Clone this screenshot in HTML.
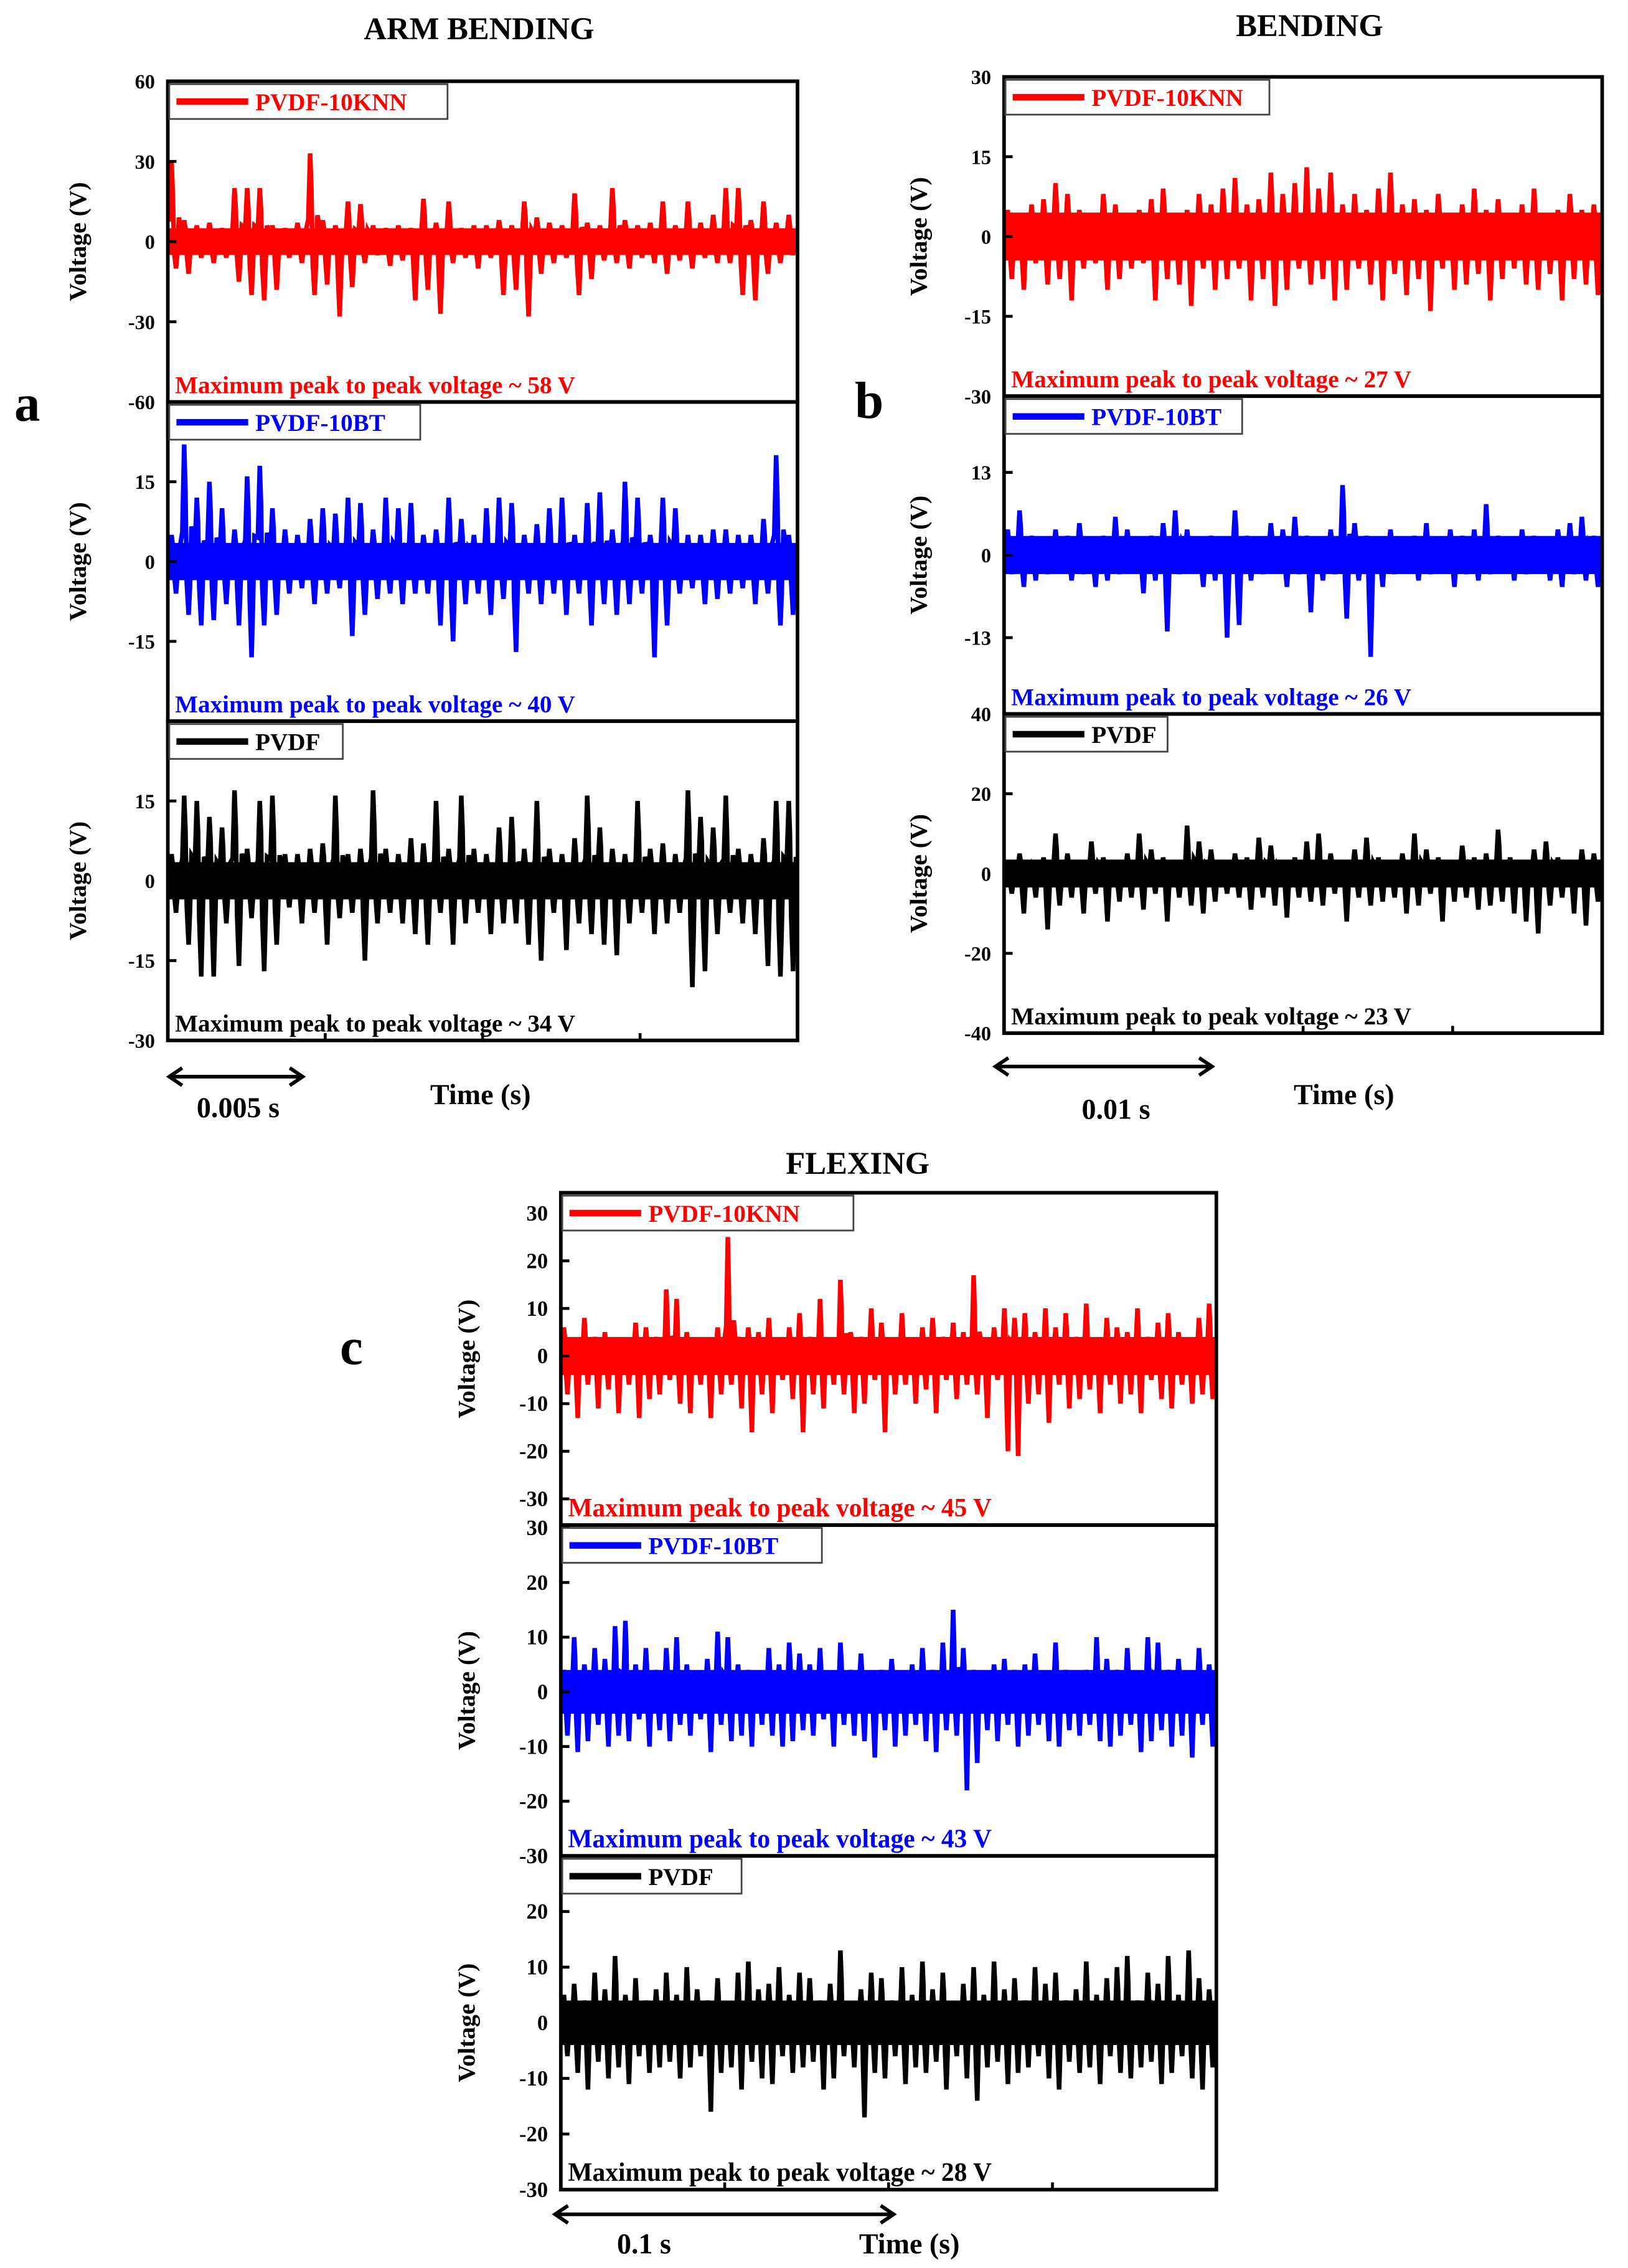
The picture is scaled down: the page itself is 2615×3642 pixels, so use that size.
<!DOCTYPE html>
<html><head><meta charset="utf-8">
<style>
html,body{margin:0;padding:0;background:#fff;}
svg{display:block;}
text{font-family:"Liberation Serif",serif;font-weight:bold;}
</style></head>
<body>
<svg id="fig" width="2615" height="3642" viewBox="0 0 1135 1563" preserveAspectRatio="none" xmlns="http://www.w3.org/2000/svg">
<g id="root"></g>
</svg>
<script>
// ---------- data (max / min voltage per time bin) ----------
const aKnnHi = [30,8,6,7,5,20,20,20,6,5,7,33,8,6,15,14,6,5,6,5,16,7,15,5,6,6,8,6,15,9,7,6,18,7,6,20,8,6,7,15,6,15,7,10,20,20,8,15,7,10];
const aKnnLo = [-10,-12,-6,-8,-6,-15,-20,-22,-18,-6,-8,-20,-16,-28,-17,-8,-5,-9,-7,-22,-18,-27,-8,-6,-10,-6,-20,-18,-28,-12,-8,-6,-20,-14,-7,-8,-10,-6,-8,-12,-7,-10,-6,-8,-8,-20,-22,-12,-8,-5];
const aBtHi = [5,22,12,15,10,6,16,18,10,6,5,8,10,9,12,11,6,12,10,11,5,6,12,8,5,10,12,11,5,7,10,12,5,11,13,6,15,12,5,12,10,5,5,6,6,5,5,8,20,5];
const aBtLo = [-6,-10,-12,-11,-8,-12,-18,-12,-10,-6,-5,-8,-6,-5,-14,-10,-7,-6,-8,-6,-6,-12,-15,-8,-6,-10,-7,-17,-6,-8,-6,-10,-6,-12,-8,-10,-8,-6,-18,-12,-6,-5,-8,-7,-6,-5,-8,-6,-12,-10];
const aPvdfHi = [5,16,15,12,10,17,6,15,16,5,5,6,7,16,5,6,17,6,5,8,7,15,6,16,6,5,10,12,6,15,6,5,8,16,10,6,5,15,6,7,5,17,12,10,16,6,5,8,15,15];
const aPvdfLo = [-6,-12,-18,-18,-8,-16,-7,-17,-12,-5,-8,-6,-12,-7,-6,-15,-8,-6,-8,-10,-12,-6,-12,-8,-6,-10,-8,-8,-12,-15,-6,-13,-8,-10,-12,-14,-8,-6,-10,-8,-6,-20,-17,-10,-6,-8,-10,-16,-18,-17];
const bKnnHi = [5,4,6,7,10,8,5,4,8,6,3,5,7,9,4,5,8,6,9,11,6,7,12,8,10,13,9,12,6,8,5,9,12,6,7,5,8,4,6,9,5,7,3,6,9,4,5,8,5,6];
const bKnnLo = [-8,-10,-5,-9,-8,-12,-6,-5,-10,-8,-6,-5,-12,-8,-9,-13,-6,-10,-8,-6,-12,-8,-13,-10,-6,-9,-8,-12,-10,-6,-9,-12,-7,-11,-8,-14,-6,-10,-9,-7,-12,-8,-6,-9,-10,-7,-12,-8,-9,-11];
const bBtHi = [4,7,3,2,4,3,5,2,3,6,4,2,3,5,7,4,2,3,2,7,3,2,5,4,6,3,2,4,11,5,3,2,4,2,3,5,2,4,3,4,8,3,2,4,3,2,4,5,6,3];
const bBtLo = [-3,-5,-4,-3,-2,-4,-3,-5,-4,-3,-2,-6,-4,-12,-3,-2,-5,-4,-13,-11,-4,-3,-2,-5,-3,-9,-4,-3,-10,-4,-16,-5,-3,-2,-4,-3,-2,-5,-3,-4,-3,-2,-4,-3,-2,-4,-5,-3,-4,-5];
const bPvdfHi = [3,5,2,4,10,5,3,8,4,3,5,10,6,4,3,12,8,6,3,5,4,9,7,3,4,8,10,5,3,6,9,4,3,5,10,6,4,3,7,4,5,11,4,3,6,8,4,3,6,5];
const bPvdfLo = [-5,-10,-6,-14,-8,-6,-10,-5,-12,-7,-6,-9,-5,-12,-6,-8,-10,-7,-5,-6,-9,-6,-8,-11,-6,-7,-8,-5,-12,-6,-8,-7,-6,-10,-8,-5,-12,-7,-6,-9,-8,-7,-10,-12,-15,-8,-6,-10,-13,-7];
const cKnnHi = [6,3,8,4,5,3,2,7,6,4,14,12,5,3,2,6,25,4,6,5,8,3,6,9,4,12,3,16,5,4,10,7,3,9,2,6,8,4,7,5,17,3,6,10,8,9,5,10,6,9,4,11,3,8,6,5,10,4,7,9,5,3,8,11];
const cKnnLo = [-8,-13,-6,-11,-7,-12,-6,-13,-9,-8,-5,-10,-12,-6,-13,-8,-6,-11,-16,-8,-12,-5,-9,-16,-8,-11,-6,-8,-12,-10,-5,-16,-8,-6,-10,-7,-12,-5,-9,-6,-8,-13,-5,-20,-21,-10,-8,-14,-6,-11,-9,-7,-12,-6,-10,-8,-12,-5,-9,-11,-6,-10,-8,-9];
const cBtHi = [4,10,5,8,6,12,13,5,8,4,8,10,5,3,6,11,10,5,4,3,8,5,9,7,5,8,3,9,4,7,3,4,6,3,5,8,4,9,15,8,4,3,5,6,4,5,7,3,9,4,3,4,10,6,4,8,3,10,9,4,6,3,8,5];
const cBtLo = [-8,-11,-9,-6,-10,-8,-9,-5,-10,-7,-9,-6,-8,-5,-11,-6,-9,-8,-10,-6,-8,-10,-9,-7,-8,-5,-10,-6,-8,-9,-12,-7,-10,-8,-6,-9,-11,-7,-8,-18,-13,-7,-9,-6,-10,-8,-6,-9,-10,-7,-8,-6,-9,-10,-8,-6,-11,-9,-7,-10,-8,-12,-6,-10];
const cPvdfHi = [5,7,4,9,6,12,5,8,4,6,9,5,10,6,4,8,3,9,11,6,7,10,5,9,8,4,7,13,3,6,9,8,4,10,5,11,6,9,3,7,10,5,11,6,8,4,10,7,9,4,6,11,5,8,10,12,4,9,7,12,5,13,8,6];
const cPvdfLo = [-6,-9,-12,-7,-10,-8,-11,-6,-9,-8,-7,-10,-8,-6,-16,-9,-8,-12,-7,-10,-11,-6,-9,-8,-7,-12,-10,-6,-8,-17,-9,-10,-6,-11,-8,-9,-7,-12,-6,-10,-14,-8,-7,-11,-9,-8,-6,-10,-12,-7,-9,-8,-11,-6,-9,-10,-8,-7,-11,-9,-6,-10,-12,-8];

const aKnnTicks = [60,30,0,-30,-60];
const aMidTicks = [15,0,-15];
const aBotTicks = [15,0,-15,-30];
const bTopTicks = [30,15,0,-15,-30];
const bMidTicks = [13,0,-13];
const bBotTicks = [40,20,0,-20,-40];
const cTopTicks = [30,20,10,0,-10,-20,-30];
const cMidTicks = [30,20,10,0,-10,-20,-30];
const cBotTicks = [20,10,0,-10,-20,-30];

// ---------- drawing ----------
const NS = "http://www.w3.org/2000/svg";
const root = document.getElementById('root');
function mk(tag, attrs, parent){
  const e = document.createElementNS(NS, tag);
  for (const k in attrs) e.setAttribute(k, attrs[k]);
  (parent||root).appendChild(e);
  return e;
}
function txt(str, x, y, size, fill, anchor, parent){
  const t = mk('text', {x:x, y:y, 'font-size':size, fill:fill||'#000', 'text-anchor':anchor||'start'}, parent);
  t.textContent = str;
  return t;
}

const COLORS = {red:'#ff0000', blue:'#0000ff', black:'#000000'};

function subplot(p){
  const g = mk('g', {});
  
  
  const ys = v => p.y0 + (p.vmax - v) / (p.vmax - p.vmin) * (p.y1 - p.y0);
  const n = p.hi.length;
  const bw = (p.x1 - p.x0) / n;
  const xs = i => p.x0 + (i + 0.5) * bw;
  const pts = [];
  for (let i = 0; i < n; i++){
    pts.push((xs(i) - bw*0.35).toFixed(1) + ',' + ys(p.hi[i]*0.25).toFixed(1));
    pts.push((xs(i) - bw*0.2).toFixed(1) + ',' + ys(p.hi[i]).toFixed(1));
    pts.push((xs(i) - bw*0.1).toFixed(1) + ',' + ys(p.hi[i]*0.6).toFixed(1));
    pts.push((xs(i) + 0.0).toFixed(1) + ',' + ys(p.lo[i] * 0.4).toFixed(1));
    pts.push((xs(i) + bw*0.15).toFixed(1) + ',' + ys(p.lo[i]).toFixed(1));
    pts.push((xs(i) + bw*0.25).toFixed(1) + ',' + ys(p.lo[i]*0.5).toFixed(1));
    pts.push((xs(i) + bw*0.38).toFixed(1) + ',' + ys(p.hi[i] * 0.3).toFixed(1));
  }
  const line = mk('polyline', {points: pts.join(' '), fill:'none', stroke:COLORS[p.color], 'stroke-width':3.2, 'stroke-linejoin':'miter'}, g);
  
  
  const band = mk('rect', {x:p.x0, y:ys(p.band), width:p.x1-p.x0, height:ys(-p.band)-ys(p.band), fill:COLORS[p.color]}, g);
  
  
  p.ticks.forEach(v => {
    const y = ys(v);
    mk('line', {x1:p.x0, x2:p.x0+6, y1:y, y2:y, stroke:'#000', 'stroke-width':2}, g);
    const tl = txt(String(v), p.x0 - 9, y + 5, p.tickSize, '#000', 'end', g);
    
    
  });
  const fr = mk('rect', {x:p.x0, y:p.y0, width:p.x1-p.x0, height:p.y1-p.y0, fill:'none', stroke:'#000', 'stroke-width':2.5}, g);
  
  
  const lg = mk('g', {}, g);
  
  
  mk('rect', {x:p.x0+1, y:p.y0+2, width:p.legW, height:24, fill:'#fff', stroke:'#444', 'stroke-width':1.2}, lg);
  mk('line', {x1:p.x0+6, x2:p.x0+56, y1:p.y0+14, y2:p.y0+14, stroke:COLORS[p.color], 'stroke-width':4.5}, lg);
  txt(p.label, p.x0+61, p.y0+20, 17, COLORS[p.color], 'start', lg);
  const an = txt(p.note, p.x0+5, p.y1-6, p.noteSize, COLORS[p.color], 'start', g);
  
  
  const cy = (p.y0 + p.y1) / 2;
  const yl = txt('Voltage (V)', 0, 0, 17, '#000', 'middle', g);
  yl.setAttribute('transform', 'translate(' + p.ylx + ',' + cy + ') rotate(-90)');
  
  
}

subplot({name:'arm-knn', x0:117, x1:556, y0:56, y1:277, vmin:-60, vmax:60, hi:aKnnHi, lo:aKnnLo, color:'red', band:5, ticks:aKnnTicks, tickSize:14, legW:194, label:'PVDF-10KNN', note:'Maximum peak to peak voltage ~ 58 V', noteSize:17, ylx:60});
subplot({name:'arm-bt', x0:117, x1:556, y0:277, y1:497, vmin:-30, vmax:30, hi:aBtHi, lo:aBtLo, color:'blue', band:3.5, ticks:aMidTicks, tickSize:14, legW:175, label:'PVDF-10BT', note:'Maximum peak to peak voltage ~ 40 V', noteSize:17, ylx:60});
subplot({name:'arm-pvdf', x0:117, x1:556, y0:497, y1:717, vmin:-30, vmax:30, hi:aPvdfHi, lo:aPvdfLo, color:'black', band:3.5, ticks:aBotTicks, tickSize:14, legW:121, label:'PVDF', note:'Maximum peak to peak voltage ~ 34 V', noteSize:17, ylx:60});
subplot({name:'bend-knn', x0:700, x1:1117, y0:53, y1:273, vmin:-30, vmax:30, hi:bKnnHi, lo:bKnnLo, color:'red', band:4.5, ticks:bTopTicks, tickSize:14, legW:184, label:'PVDF-10KNN', note:'Maximum peak to peak voltage ~ 27 V', noteSize:17, ylx:646});
subplot({name:'bend-bt', x0:700, x1:1117, y0:273, y1:492, vmin:-25, vmax:25, hi:bBtHi, lo:bBtLo, color:'blue', band:3, ticks:bMidTicks, tickSize:14, legW:165, label:'PVDF-10BT', note:'Maximum peak to peak voltage ~ 26 V', noteSize:17, ylx:646});
subplot({name:'bend-pvdf', x0:700, x1:1117, y0:492, y1:712, vmin:-40, vmax:40, hi:bPvdfHi, lo:bPvdfLo, color:'black', band:3.5, ticks:bBotTicks, tickSize:14, legW:113, label:'PVDF', note:'Maximum peak to peak voltage ~ 23 V', noteSize:17, ylx:646});
subplot({name:'flex-knn', x0:391, x1:848, y0:822, y1:1051, vmin:-35.5, vmax:34.3, hi:cKnnHi, lo:cKnnLo, color:'red', band:4, ticks:cTopTicks, tickSize:15, legW:203, label:'PVDF-10KNN', note:'Maximum  peak to peak voltage ~ 45 V', noteSize:18, ylx:331});
subplot({name:'flex-bt', x0:391, x1:848, y0:1051, y1:1279, vmin:-30, vmax:30.5, hi:cBtHi, lo:cBtLo, color:'blue', band:4, ticks:cMidTicks, tickSize:15, legW:181, label:'PVDF-10BT', note:'Maximum  peak to peak voltage ~ 43 V', noteSize:18, ylx:331});
subplot({name:'flex-pvdf', x0:391, x1:848, y0:1279, y1:1509, vmin:-30, vmax:30, hi:cPvdfHi, lo:cPvdfLo, color:'black', band:4, ticks:cBotTicks, tickSize:15, legW:125, label:'PVDF', note:'Maximum  peak to peak voltage ~ 28 V', noteSize:18, ylx:331});

[['ARM BENDING',334,27,'arm-bending-title'],['BENDING',913,25,'bending-title'],['FLEXING',598,809,'flexing-title']].forEach(t=>{
  const e = txt(t[0], t[1], t[2], 22, '#000', 'middle');
  
  
});
[['a',10,290],['b',596,288],['c',237,940]].forEach(t=>{
  const e = txt(t[0], t[1], t[2], 36, '#000', 'start');
  
  
});

function arrow(x1, x2, y, name){
  const g = mk('g', {});
  
  
  mk('line', {x1:x1+2, x2:x2-2, y1:y, y2:y, stroke:'#000', 'stroke-width':2.5}, g);
  mk('polyline', {points:(x1+10)+','+(y-6)+' '+(x1+1)+','+y+' '+(x1+10)+','+(y+6), fill:'none', stroke:'#000', 'stroke-width':2.5}, g);
  mk('polyline', {points:(x2-10)+','+(y-6)+' '+(x2-1)+','+y+' '+(x2-10)+','+(y+6), fill:'none', stroke:'#000', 'stroke-width':2.5}, g);
}
arrow(117, 212, 742, 'scale-arrow-a');
arrow(693, 846, 735, 'scale-arrow-b');
arrow(386, 624, 1526, 'scale-arrow-c');
[['0.005 s',166,770,'scale-label-a'],['0.01 s',778,771,'scale-label-b'],['0.1 s',449,1553,'scale-label-c'],
 ['Time (s)',335,761,'x-axis-title-a'],['Time (s)',937,761,'x-axis-title-b'],['Time (s)',634,1553,'x-axis-title-c']].forEach(t=>{
  const e = txt(t[0], t[1], t[2], 20, '#000', 'middle');
  
  
});
[[117,556,717],[700,1117,712],[391,848,1509]].forEach(a=>{
  for (let k = 1; k < 4; k++){
    const x = a[0] + (a[1]-a[0]) * k / 4;
    mk('line', {x1:x, x2:x, y1:a[2], y2:a[2]-5, stroke:'#000', 'stroke-width':2});
  }
});
</script>
</body></html>
